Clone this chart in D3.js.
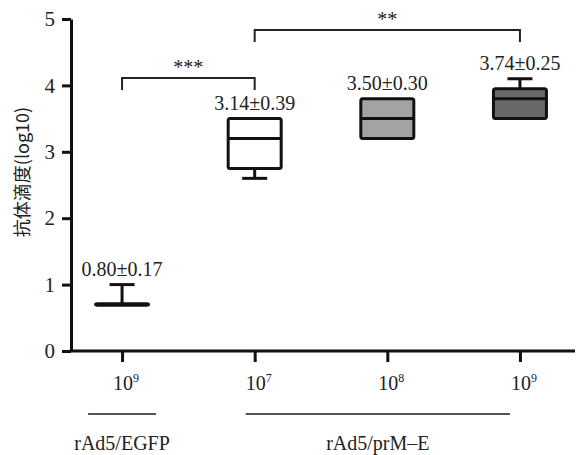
<!DOCTYPE html>
<html>
<head>
<meta charset="utf-8">
<script src="https://cdn.jsdelivr.net/npm/d3@7"></script>
<style>
  body { margin: 0; background: #fff; }
  text { font-family: "Liberation Serif", "Times New Roman", serif; fill: #222; }
</style>
</head>
<body>
<div id="chart"></div>
<script>
// antibody titre box plot
const categories = ["EGFP-1e9", "prME-1e7", "prME-1e8", "prME-1e9"];
const doseBase = ["10", "10", "10", "10"];
const doseExp = ["9", "7", "8", "9"];
const whiskerMin = [0.7, 2.6, 3.2, 3.5];
const q1 = [0.69, 2.75, 3.2, 3.5];
const median = [0.7, 3.2, 3.5, 3.8];
const q3 = [0.71, 3.5, 3.8, 3.95];
const whiskerMax = [1.0, 3.5, 3.8, 4.1];
const meanLabels = ["0.80±0.17", "3.14±0.39", "3.50±0.30", "3.74±0.25"];
const boxFills = ["#ffffff", "#ffffff", "#a3a3a3", "#686868"];
const yTicks = [0, 1, 2, 3, 4, 5];
const groupNames = ["rAd5/EGFP", "rAd5/prM–E"];
const groupFrom = [0, 1];
const groupTo = [0, 3];
const sigLabels = ["***", "**"];
const sigFrom = [0, 1];
const sigTo = [1, 3];

const margin = { top: 19, right: 10, bottom: 104, left: 71 },
      width = 585 - margin.left - margin.right,
      height = 455 - margin.top - margin.bottom;

const svg = d3.select("#chart")
  .append("svg")
    .attr("width", 585)
    .attr("height", 455)
  .append("g")
    .attr("transform", `translate(${margin.left},${margin.top})`);

const x = d3.scalePoint()
  .domain(categories)
  .range([-2, width - 2])
  .padding(0.4);

const y = d3.scaleLinear()
  .domain([0, 5])
  .range([height, 0]);

const boxW = 53, capW = 25;

// Axes
const yAxis = svg.append("g")
  .call(d3.axisLeft(y).tickValues(yTicks).tickSize(9).tickSizeOuter(0).tickPadding(7).tickFormat(d3.format("d")));
yAxis.selectAll("path, line").attr("stroke", "#111").attr("stroke-width", 3);
yAxis.selectAll("text").style("font-size", "21px").attr("fill", "#222");

const xAxis = svg.append("g")
  .attr("transform", `translate(0,${height})`)
  .call(d3.axisBottom(x).tickSize(11).tickSizeOuter(0).tickFormat(""));
xAxis.selectAll("path, line").attr("stroke", "#111").attr("stroke-width", 3);
xAxis.select(".domain").attr("d", `M-1.5,0H${width}`);

// tick labels with superscript
const tl = svg.selectAll(".dose")
  .data(categories)
  .join("text")
    .attr("class", "dose")
    .attr("x", d => x(d) + 4)
    .attr("y", height + 39)
    .attr("text-anchor", "middle")
    .style("font-size", "20px");
tl.append("tspan").text((d, i) => doseBase[i]);
tl.append("tspan").attr("dy", -8).style("font-size", "12px").text((d, i) => doseExp[i]);

// Y title
svg.append("text")
  .attr("transform", `translate(${-42},${(172 - margin.top)}) rotate(-90)`)
  .attr("text-anchor", "middle")
  .style("font-family", "'Noto Sans CJK SC', 'Liberation Serif', serif")
  .style("font-size", "18px")
  .attr("fill", "#333")
  .text("抗体滴度(log10)");

// Boxes
const boxes = svg.selectAll(".box")
  .data(categories)
  .join("g")
    .attr("class", "box")
    .attr("transform", d => `translate(${x(d)},0)`);

boxes.append("line")
  .attr("y1", (d, i) => y(whiskerMax[i]))
  .attr("y2", (d, i) => y(q3[i]))
  .attr("stroke", "#111").attr("stroke-width", 3);
boxes.append("line")
  .attr("y1", (d, i) => y(q1[i]))
  .attr("y2", (d, i) => y(whiskerMin[i]))
  .attr("stroke", "#111").attr("stroke-width", 3);
boxes.append("line")
  .attr("x1", -capW / 2).attr("x2", capW / 2)
  .attr("y1", (d, i) => y(whiskerMax[i]))
  .attr("y2", (d, i) => y(whiskerMax[i]))
  .attr("stroke", "#111").attr("stroke-width", 3)
  .style("display", (d, i) => whiskerMax[i] > q3[i] ? null : "none");
boxes.append("line")
  .attr("x1", -capW / 2).attr("x2", capW / 2)
  .attr("y1", (d, i) => y(whiskerMin[i]))
  .attr("y2", (d, i) => y(whiskerMin[i]))
  .attr("stroke", "#111").attr("stroke-width", 3)
  .style("display", (d, i) => whiskerMin[i] < q1[i] ? null : "none");
boxes.append("rect")
  .attr("x", -boxW / 2)
  .attr("width", boxW)
  .attr("y", (d, i) => y(q3[i]))
  .attr("height", (d, i) => y(q1[i]) - y(q3[i]))
  .attr("rx", 2)
  .attr("fill", (d, i) => boxFills[i])
  .attr("stroke", "#111").attr("stroke-width", 3)
  .attr("stroke-linejoin", "round");
boxes.append("line")
  .attr("x1", -boxW / 2).attr("x2", boxW / 2)
  .attr("y1", (d, i) => y(median[i]))
  .attr("y2", (d, i) => y(median[i]))
  .attr("stroke", "#111").attr("stroke-width", 3);

// mean ± sd labels
boxes.append("text")
  .attr("y", (d, i) => y(whiskerMax[i]) - 9)
  .attr("text-anchor", "middle")
  .style("font-size", "20px")
  .text((d, i) => meanLabels[i]);

// significance brackets
const bracketY = [78, 30];
sigLabels.forEach((s, i) => {
  const x0 = x(categories[sigFrom[i]]), x1 = x(categories[sigTo[i]]);
  const top = bracketY[i] - margin.top;
  svg.append("path")
    .attr("d", `M${x0},${top + 12}V${top}H${x1}V${top + 12}`)
    .attr("fill", "none")
    .attr("stroke", "#222")
    .attr("stroke-width", 2);
  svg.append("text")
    .attr("x", (x0 + x1) / 2)
    .attr("y", top - 4)
    .attr("text-anchor", "middle")
    .style("font-size", "20px")
    .attr("fill", "#444")
    .text(s);
});

// group labels
groupNames.forEach((g, i) => {
  const single = groupFrom[i] === groupTo[i];
  const a = x(categories[groupFrom[i]]) - (single ? 34 : 9);
  const b = x(categories[groupTo[i]]) + (single ? 34 : -10);
  svg.append("line")
    .attr("x1", a).attr("x2", b)
    .attr("y1", height + 63).attr("y2", height + 63)
    .attr("stroke", "#555").attr("stroke-width", 2);
  svg.append("text")
    .attr("x", (a + b) / 2)
    .attr("y", height + 99)
    .attr("text-anchor", "middle")
    .style("font-size", "20px")
    .text(g);
});
</script>
</body>
</html>
